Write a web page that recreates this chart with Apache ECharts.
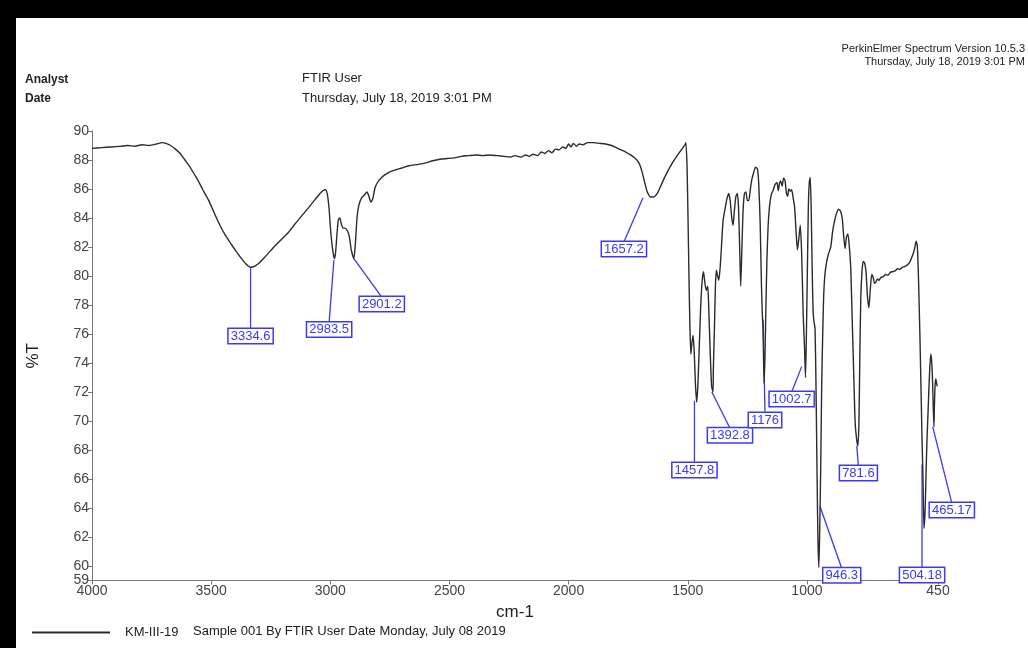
<!DOCTYPE html>
<html><head><meta charset="utf-8">
<script src="https://cdn.jsdelivr.net/npm/echarts@6/dist/echarts.min.js"></script>
<style>html,body{margin:0;padding:0;background:#fff}#c{width:1028px;height:648px}</style>
</head><body><div id="c"></div>
<script>
// ---- spectrum data (cm-1, %T) ----
const wavenumbers = [
4000,3960,3920,3880,3850,3820,3790,3760,3730,3705,3690,3670,3650,3630,3610,3590,3570,3555,3535,3510,3487,3460,3440,3416,3395,3375,3355,3334.6,3315,3295,3275,3250,3225,3200,3176,3150,3120,3092,3065,3045,3030,3020,3012,3005,2998,2990,2983.5,2978,2972,2966,2960,2954,2946,2938,2928,2920,2912,2901.2,2895,2888,2880,2868,2856,2846,2838,2830,2822,2812,2800,2785,2760,2731,2700,2670,2630,2600,2570,2540,2510,2480,2450,2420,2390,2360,2330,2300,2270,2245,2225,2200,2180,2165,2150,2130,2115,2100,2085,2070,2055,2040,2025,2012,2000,1990,1980,1968,1955,1940,1920,1895,1870,1845,1820,1800,1780,1760,1740,1720,1705,1692,1680,1670,1660,1657.2,1648,1638,1628,1615,1600,1585,1570,1555,1540,1525,1514,1508,1503,1499,1495,1491,1487,1483,1478,1473,1468,1463,1457.8,1452,1446,1440,1434,1428,1422,1416,1412,1406,1400,1394,1392.8,1388,1384,1380,1376,1370,1364,1358,1352,1344,1336,1328,1322,1316,1310,1304,1298,1292,1287,1282,1278,1273,1268,1262,1256,1250,1244,1238,1232,1224,1216,1208,1202,1196,1191,1187,1184,1180,1176,1172,1168,1163,1157,1150,1142,1134,1126,1120,1115,1110,1104,1098,1092,1086,1081,1076,1070,1064,1058,1052,1046,1040,1034,1028,1022,1016,1010,1006,1002.7,998,994,990,986,982,978,974,970,966,962,958,954,950,946.3,942,938,934,930,925,918,910,900,892,884,876,868,860,852,846,840,834,828,822,816,810,804,798,792,786,781.6,778,774,769,764,758,752,746,740,734,728,722,716,710,704,698,690,680,670,660,650,640,630,620,610,600,590,580,570,562,555,548,542,537,533,529,525,521,517,513,509,504.18,500,496,492,488,484,480,476,473,470,467,465.17,462,459,456,453,450
];
const transmittance = [
88.8,88.85,88.9,88.95,89.0,88.95,89.05,89.0,89.1,89.2,89.15,89.0,88.75,88.45,88.0,87.55,87.0,86.6,85.95,85.2,84.35,83.4,82.8,82.2,81.7,81.25,80.85,80.6,80.7,80.95,81.3,81.75,82.2,82.6,83.0,83.55,84.15,84.7,85.25,85.65,85.9,85.95,85.6,84.6,83.0,81.8,81.2,81.6,82.9,83.9,84.0,83.6,83.3,83.3,83.1,82.7,81.8,81.2,82.2,84.0,84.9,85.4,85.6,85.8,85.5,85.1,85.3,86.1,86.5,86.8,87.1,87.3,87.45,87.6,87.7,87.8,87.95,88.05,88.1,88.15,88.25,88.3,88.35,88.3,88.35,88.3,88.25,88.2,88.3,88.2,88.35,88.25,88.4,88.3,88.55,88.45,88.65,88.5,88.75,88.7,88.9,88.8,89.1,88.9,89.15,88.95,89.1,89.05,89.2,89.2,89.15,89.1,89.0,88.85,88.7,88.55,88.35,88.1,87.8,87.2,86.4,85.8,85.5,85.45,85.45,85.5,85.7,86.15,86.7,87.2,87.65,88.05,88.4,88.75,89.0,89.2,87.5,84.0,80.0,76.5,74.6,75.3,75.9,74.8,72.6,71.3,72.4,75.0,77.8,79.6,80.3,79.5,79.0,79.3,77.8,74.8,72.4,72.0,73.5,76.5,79.3,80.4,80.1,79.7,80.6,82.2,83.8,84.6,85.3,85.7,85.2,84.1,83.5,84.6,85.5,85.7,84.7,81.8,79.3,81.8,84.5,85.7,85.8,85.2,85.2,85.9,86.6,87.1,87.5,87.4,86.3,83.5,79.5,77.3,76.3,72.6,74.5,78.0,81.0,83.4,84.8,85.6,85.9,86.3,86.45,85.9,86.4,86.55,86.2,86.75,86.6,85.7,85.5,86.0,85.85,85.95,85.4,84.8,83.2,81.8,82.6,83.5,81.5,77.5,75.0,73.0,75.5,80.5,84.8,86.5,86.8,84.5,80.5,77.5,76.8,76.4,72.5,67.0,62.0,59.9,62.5,67.0,72.5,75.8,78.5,80.0,80.9,81.5,82.0,83.1,83.8,84.3,84.6,84.5,84.0,82.8,81.9,82.7,82.9,82.0,80.5,77.0,73.5,70.0,68.8,68.3,70.0,74.5,78.5,80.3,81.0,80.9,80.3,78.6,77.8,79.1,80.1,79.9,79.5,79.6,79.8,79.7,79.9,79.95,80.1,80.05,80.25,80.3,80.35,80.5,80.45,80.6,80.65,80.75,80.9,81.2,81.5,81.9,82.4,82.1,80.5,78.0,75.2,72.0,68.8,66.0,62.6,63.8,66.5,68.8,70.5,72.3,73.8,74.6,74.0,72.8,71.0,69.6,71.0,72.5,72.9,72.6,72.4
];
// ---- peak annotations ----
const peakLabels   = ['3334.6','2983.5','2901.2','1657.2','1457.8','1392.8','1176','1002.7','946.3','781.6','504.18','465.17'];
const leaderFromWn = [3334.6, 2985, 2901.2, 1688, 1472, 1399, 1184, 1022, 945, 791, 517, 472];
const leaderFromT  = [80.6, 81.1, 81.2, 85.4, 71.4, 72.0, 77.0, 73.75, 64.1, 68.3, 67.0, 69.6];
const labelAtWn    = [3334.6, 3005, 2784, 1768, 1472, 1323, 1176, 1064, 854, 784, 517, 392];
const labelAtT     = [76.34, 76.8, 78.55, 82.35, 67.1, 69.5, 70.55, 72.0, 59.84, 66.9, 59.86, 64.34];
// ---- axis ticks ----
const xTicks = [4000,3500,3000,2500,2000,1500,1000,450];
const yTicks = [59,60,62,64,66,68,70,72,74,76,78,80,82,84,86,88,90];

const FONT = "'Liberation Sans',Arial,sans-serif";
const BLUE = '#3a3af0';

const spectrum = wavenumbers.map((w, i) => [w, transmittance[i]]);
const annots = peakLabels.map((t, i) => [leaderFromWn[i], leaderFromT[i], labelAtWn[i], labelAtT[i], i]);

const chart = echarts.init(document.getElementById('c'), null, {renderer: 'canvas'});
chart.setOption({
  backgroundColor: '#fff',
  animation: false,
  grid: {left: 92, right: 90, top: 131, bottom: 67.5, containLabel: false},
  xAxis: {
    type: 'value', inverse: true, min: 450, max: 4000,
    name: 'cm-1', nameLocation: 'middle', nameGap: 21,
    nameTextStyle: {fontSize: 17, color: '#222', fontFamily: FONT},
    axisLine: {lineStyle: {color: '#777', width: 1}},
    axisTick: {show: true, length: 4, lineStyle: {color: '#777'}, customValues: xTicks},
    axisLabel: {customValues: xTicks, fontSize: 14, color: '#444', fontFamily: FONT, margin: 4,
                formatter: function (v) { return String(v); }},
    splitLine: {show: false}
  },
  yAxis: {
    type: 'value', min: 59, max: 90,
    name: '%T', nameLocation: 'middle', nameGap: 50, nameRotate: 90,
    nameTextStyle: {fontSize: 17, color: '#222', fontFamily: FONT},
    axisLine: {show: true, lineStyle: {color: '#777', width: 1}},
    axisTick: {show: true, length: 4, lineStyle: {color: '#777'}, customValues: yTicks},
    axisLabel: {customValues: yTicks, fontSize: 14, color: '#444', fontFamily: FONT, margin: 3},
    splitLine: {show: false}
  },
  legend: {
    left: 27, top: 621, icon: 'rect', itemWidth: 78, itemHeight: 2,
    data: ['KM-III-19'],
    textStyle: {fontSize: 13, color: '#222', fontFamily: FONT, padding: [0, 0, 0, 10]}
  },
  graphic: [
    {type: 'rect', shape: {x: 0, y: 0, width: 1028, height: 18}, style: {fill: '#000'}, silent: true},
    {type: 'rect', shape: {x: 0, y: 0, width: 16, height: 648}, style: {fill: '#000'}, silent: true},
    {type: 'text', x: 25, y: 80, style: {text: 'Analyst', font: 'bold 12px ' + FONT, fill: '#222', verticalAlign: 'middle'}},
    {type: 'text', x: 25, y: 99, style: {text: 'Date', font: 'bold 12px ' + FONT, fill: '#222', verticalAlign: 'middle'}},
    {type: 'text', x: 302, y: 78, style: {text: 'FTIR User', font: '13px ' + FONT, fill: '#222', verticalAlign: 'middle'}},
    {type: 'text', x: 302, y: 98, style: {text: 'Thursday, July 18, 2019 3:01 PM', font: '13px ' + FONT, fill: '#222', verticalAlign: 'middle'}},
    {type: 'text', x: 1025, y: 49, style: {text: 'PerkinElmer Spectrum Version 10.5.3', font: '11px ' + FONT, fill: '#222', align: 'right', verticalAlign: 'middle'}},
    {type: 'text', x: 1025, y: 62, style: {text: 'Thursday, July 18, 2019 3:01 PM', font: '11px ' + FONT, fill: '#222', align: 'right', verticalAlign: 'middle'}},
    {type: 'text', x: 193, y: 631, style: {text: 'Sample 001 By FTIR User Date Monday, July 08 2019', font: '13px ' + FONT, fill: '#222', verticalAlign: 'middle'}}
  ],
  series: [
    {
      name: 'KM-III-19', type: 'line', data: spectrum,
      showSymbol: false, smooth: 0.2, color: '#2b2b2b',
      lineStyle: {color: '#2b2b2b', width: 1.4}
    },
    {
      name: 'peaks', type: 'custom', clip: false, data: annots,
      encode: {x: [0, 2], y: [1, 3]},
      renderItem: function (params, api) {
        const p1 = api.coord([api.value(0), api.value(1)]);
        const p2 = api.coord([api.value(2), api.value(3)]);
        const txt = peakLabels[api.value(4)];
        return {
          type: 'group',
          children: [
            {type: 'line', shape: {x1: p1[0], y1: p1[1], x2: p2[0], y2: p2[1]},
             style: {stroke: BLUE, lineWidth: 1.3}},
            {type: 'text', x: p2[0], y: p2[1],
             style: {text: txt, font: '13px ' + FONT, fill: BLUE, align: 'center', verticalAlign: 'top',
                     backgroundColor: '#fff', borderColor: BLUE, borderWidth: 1.5, padding: [1, 2, 0, 2]}}
          ]
        };
      }
    }
  ]
});
</script></body></html>
